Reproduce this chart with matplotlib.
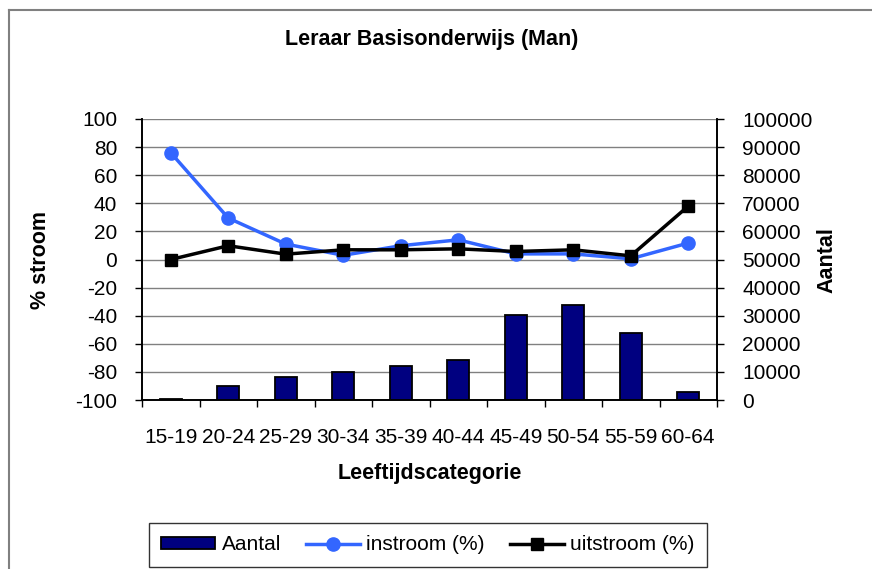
import numpy as np
import matplotlib.pyplot as plt
from matplotlib.lines import Line2D

plt.rcParams['font.family'] = ['Liberation Sans', 'DejaVu Sans']
plt.rcParams['axes.unicode_minus'] = False

# Gegevens
categorieen = ['15-19', '20-24', '25-29', '30-34', '35-39',
               '40-44', '45-49', '50-54', '55-59', '60-64']
aantal = [300, 5000, 8200, 10100, 12000, 14400, 30200, 33800, 23800, 2900]
instroom = [76, 29.5, 11, 3, 9.8, 14, 4, 4, 0.5, 11.7]
uitstroom = [0, 9.8, 3.8, 6.9, 6.9, 7.6, 5.7, 6.9, 2.6, 38]

blauw = '#3366FF'
donkerblauw = '#000080'
grijs = '#808080'
fs = 15

fig = plt.figure(figsize=(8.72, 5.69), dpi=100)
ax = fig.add_axes([142 / 872, 1 - 400 / 569, 575 / 872, 281 / 569])
ax2 = ax.twinx()

x = np.arange(len(categorieen))

# Staafdiagram (rechter as) onderaan
ax2.bar(x, aantal, width=0.39, color=donkerblauw, edgecolor='black', linewidth=1.3, zorder=3)
ax2.set_ylim(0, 100000)
ax2.set_yticks(np.arange(0, 100001, 10000))
ax2.grid(axis='y', color=grijs, linewidth=1.0, zorder=0)
ax2.set_axisbelow(True)

# Lijnen (linker as) bovenop
ax.set_zorder(ax2.get_zorder() + 1)
ax.patch.set_visible(False)
ax.plot(x, instroom, color=blauw, linewidth=2.5, marker='o', markersize=9.5, zorder=4)
ax.plot(x, uitstroom, color='black', linewidth=2.5, marker='s', markersize=9, zorder=5)
ax.set_ylim(-100, 100)
ax.set_yticks(np.arange(-100, 101, 20))
ax.set_xlim(-0.5, len(categorieen) - 0.5)

ax.set_xticks(x)
ax.set_xticklabels(categorieen)
ax.set_xticks(np.arange(-0.5, len(categorieen), 1), minor=True)
ax.tick_params(axis='x', which='major', length=0, pad=20, labelsize=fs)
ax.tick_params(axis='x', which='minor', length=5, width=1, direction='out')
ax.tick_params(axis='y', length=5, width=1, pad=13, labelsize=fs)
ax2.tick_params(axis='y', length=5, width=1, pad=13, labelsize=fs)

for a in (ax, ax2):
    a.spines['top'].set_visible(False)
    for s in ('left', 'right', 'bottom'):
        a.spines[s].set_linewidth(1.2)

# Teksten
fig.text(432 / 872, 1 - 40 / 569, 'Leraar Basisonderwijs (Man)', ha='center', va='center',
         fontsize=15.5, fontweight='bold')
fig.text(430 / 872, 1 - 473 / 569, 'Leeftijdscategorie', ha='center', va='center',
         fontsize=15.5, fontweight='bold')
fig.text(40 / 872, 1 - 260 / 569, '% stroom', ha='center', va='center', rotation=90,
         fontsize=15.5, fontweight='bold')
fig.text(827 / 872, 1 - 260 / 569, 'Aantal', ha='center', va='center', rotation=90,
         fontsize=15.5, fontweight='bold')

# Legenda
handles = [
    plt.Rectangle((0, 0), 1, 1, facecolor=donkerblauw, edgecolor='black', linewidth=1.3),
    Line2D([], [], color=blauw, linewidth=2.5, marker='o', markersize=9.5),
    Line2D([], [], color='black', linewidth=2.5, marker='s', markersize=9),
]
leg = fig.legend(handles, ['Aantal', 'instroom (%)', 'uitstroom (%)'], ncol=3,
                 loc='center', bbox_to_anchor=(428 / 872, 1 - 545 / 569),
                 fontsize=fs, frameon=True, fancybox=False, edgecolor='black',
                 handlelength=2.6, handleheight=0.55, handletextpad=0.3,
                 columnspacing=1.2, borderpad=0.6, borderaxespad=0)
leg.get_frame().set_linewidth(1.0)

# Kader van de grafiek
fig.add_artist(Line2D([9 / 872, 9 / 872], [0, 1 - 10 / 569], color=grijs, linewidth=1.5))
fig.add_artist(Line2D([9 / 872, 1], [1 - 10 / 569, 1 - 10 / 569], color=grijs, linewidth=1.5))

fig.savefig('out.png', dpi=100)
